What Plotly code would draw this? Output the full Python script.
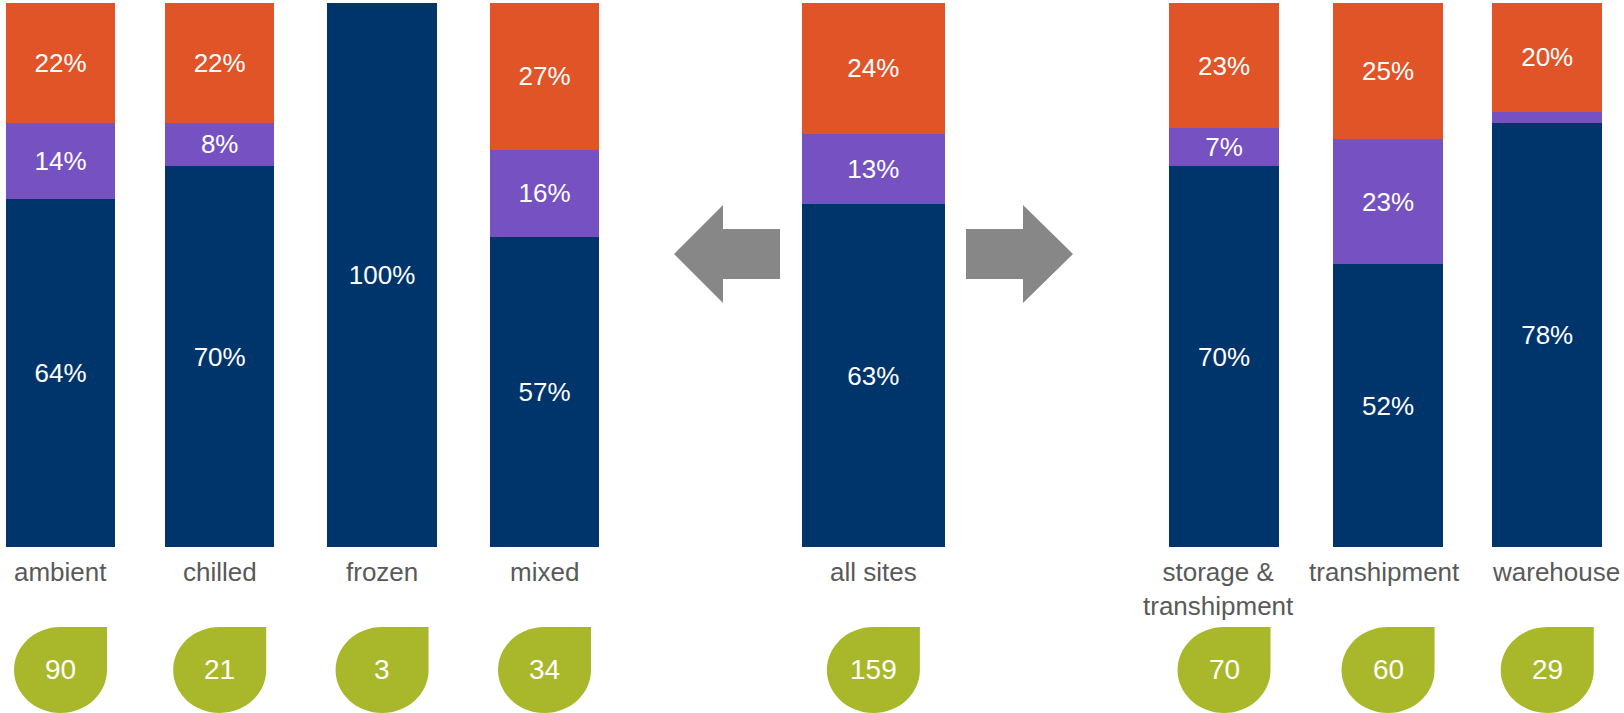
import plotly.graph_objects as go

# ---- data -------------------------------------------------------------
categories = ["ambient", "chilled", "frozen", "mixed", "all sites",
              "storage &<br>transhipment", "transhipment", "warehouse"]
share_blue = [64, 70, 100, 57, 63, 70, 52, 78]
share_purple = [14, 8, 0, 16, 13, 7, 23, 2]
share_orange = [22, 22, 0, 27, 24, 23, 25, 20]
purple_labels = ["14%", "8%", "", "16%", "13%", "7%", "23%", ""]
site_counts = [90, 21, 3, 34, 159, 70, 60, 29]

# ---- layout constants (pixel geometry of the page) ----------------
W, H = 1624, 713
SLOT_PX = 161.6          # horizontal distance between neighbouring slots
FIRST_PX = 60.5          # centre of the first slot
BASE_PX = 547            # pixel row of the 0 % baseline
PCT_PX = 5.44            # pixels per percentage point
slots = [0, 0.985, 1.99, 2.995, 5.03, 7.2, 8.215, 9.2]
bar_px = [109.5, 109.5, 109.5, 109.5, 143, 109.5, 109.5, 109.5]
label_shift = [0, 0, 0, 0, 0, -6, -4, 9]

NAVY, PURPLE, ORANGE = "#00356B", "#7651C2", "#E05428"
GREEN, GREY, TEXT = "#A8B82A", "#878787", "#595959"
FONT = "Liberation Sans, Arial, sans-serif"


def xd(px):
    return (px - FIRST_PX) / SLOT_PX


def yd(py):
    return (BASE_PX - py) / PCT_PX


widths = [w / SLOT_PX for w in bar_px]


def pct(vals):
    return [f"{v}%" if v else "" for v in vals]


fig = go.Figure()
for vals, color, labels in [
    (share_blue, NAVY, pct(share_blue)),
    (share_purple, PURPLE, purple_labels),
    (share_orange, ORANGE, pct(share_orange)),
]:
    fig.add_trace(go.Bar(
        x=slots, y=vals, width=widths, marker=dict(color=color, line=dict(width=0)),
        text=labels, textposition="inside", insidetextanchor="middle",
        textangle=0, constraintext="none",
        textfont=dict(family=FONT, size=26, color="white"),
        hoverinfo="skip", showlegend=False,
    ))

shapes = []
annotations = []

# category names under the bars
for s, name, dx in zip(slots, categories, label_shift):
    annotations.append(dict(
        x=s, y=yd(555), xref="x", yref="y", text=name, showarrow=False,
        xanchor="center", yanchor="top", xshift=dx,
        font=dict(family=FONT, size=26, color=TEXT),
    ))


# leaf badges with the number of sites
def leaf_path(cx_px, top_px, bottom_px, half_w):
    cy = (top_px + bottom_px) / 2
    ry = (bottom_px - top_px) / 2
    k = 0.5523
    pts = [
        ("M", [(cx_px, top_px)]),
        ("L", [(cx_px + half_w, top_px)]),
        ("L", [(cx_px + half_w, cy)]),
        ("C", [(cx_px + half_w, cy + k * ry), (cx_px + k * half_w, bottom_px), (cx_px, bottom_px)]),
        ("C", [(cx_px - k * half_w, bottom_px), (cx_px - half_w, cy + k * ry), (cx_px - half_w, cy)]),
        ("C", [(cx_px - half_w, cy - k * ry), (cx_px - k * half_w, top_px), (cx_px, top_px)]),
    ]
    out = ""
    for cmd, coords in pts:
        out += cmd + " ".join(f"{xd(px):.5f},{yd(py):.4f}" for px, py in coords) + " "
    return out + "Z"


for s, n in zip(slots, site_counts):
    cx = FIRST_PX + s * SLOT_PX
    shapes.append(dict(type="path", xref="x", yref="y",
                       path=leaf_path(cx, 627, 713, 46.5),
                       fillcolor=GREEN, line=dict(width=0), layer="above"))
    annotations.append(dict(
        x=s, y=yd(669), xref="x", yref="y", text=str(n), showarrow=False,
        xanchor="center", yanchor="middle",
        font=dict(family=FONT, size=28, color="white"),
    ))


# block arrows pointing away from the "all sites" bar
def poly(points):
    return "M" + " L".join(f"{xd(px):.5f},{yd(py):.4f}" for px, py in points) + " Z"


left_arrow = [(674, 254), (723, 205), (723, 229), (780, 229),
              (780, 279), (723, 279), (723, 303)]
right_arrow = [(1073, 254), (1023, 205), (1023, 229), (966, 229),
               (966, 279), (1023, 279), (1023, 303)]
for pts in (left_arrow, right_arrow):
    shapes.append(dict(type="path", xref="x", yref="y", path=poly(pts),
                       fillcolor=GREY, line=dict(width=0)))

fig.update_layout(
    barmode="stack",
    width=W, height=H,
    margin=dict(l=0, r=0, t=0, b=0),
    paper_bgcolor="white", plot_bgcolor="white",
    xaxis=dict(range=[xd(0), xd(W)], visible=False, fixedrange=True),
    yaxis=dict(range=[yd(H), yd(0)], visible=False, fixedrange=True),
    shapes=shapes, annotations=annotations,
    uniformtext=dict(mode=False),
)

fig.write_html("out.html")
